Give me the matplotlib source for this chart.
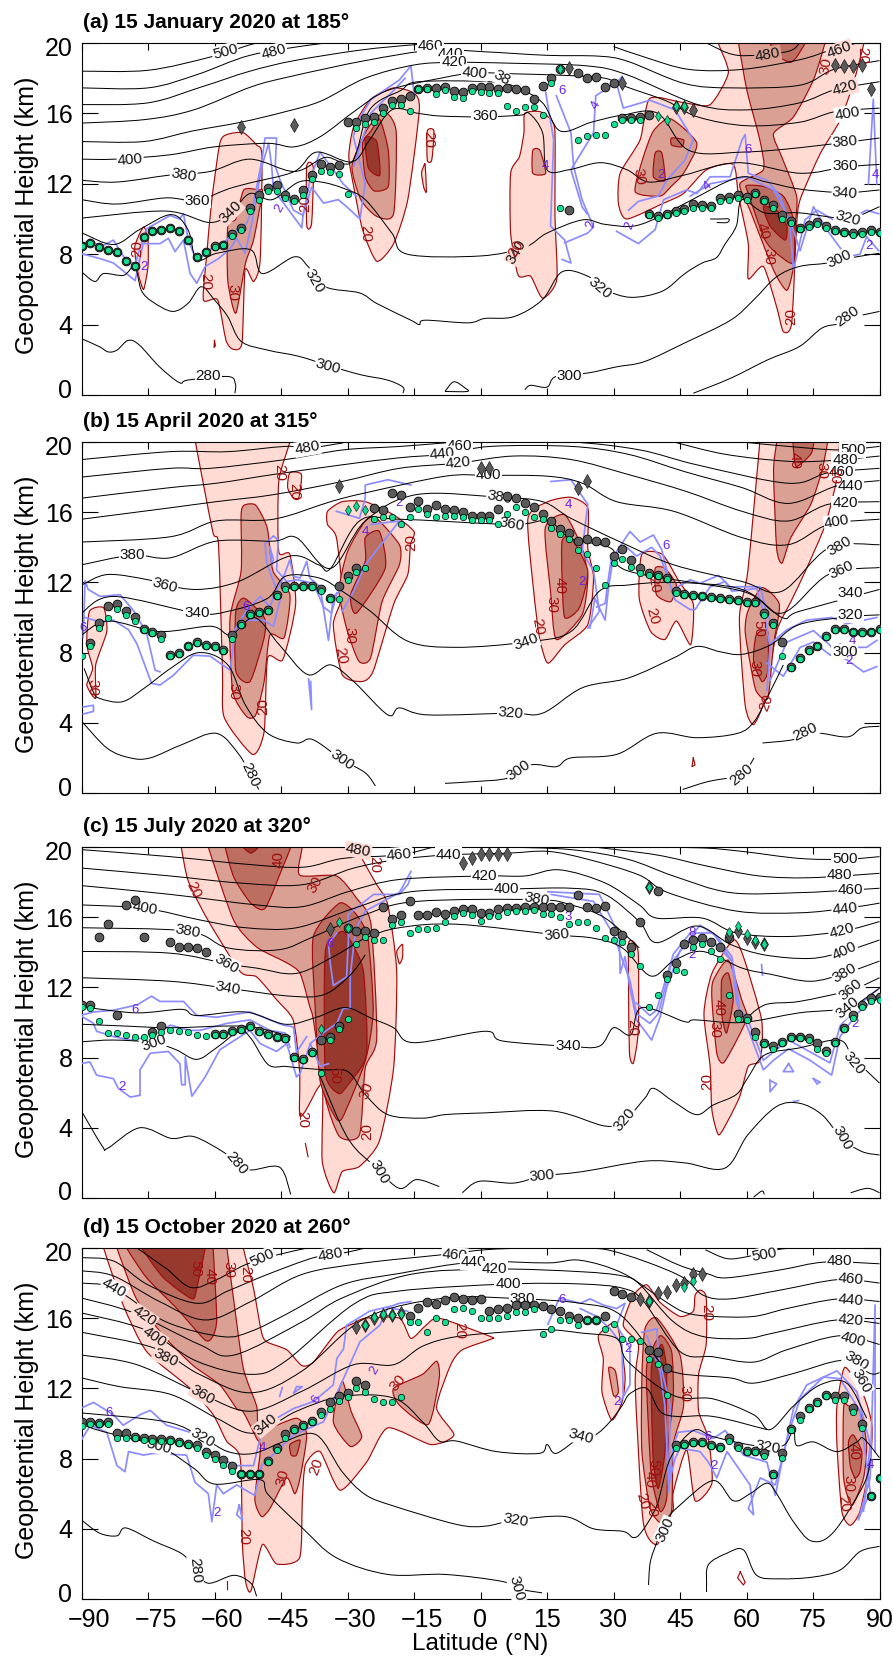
import matplotlib
matplotlib.use("Agg")
import matplotlib.pyplot as plt
from matplotlib.path import Path
from matplotlib.patches import PathPatch
from matplotlib.transforms import ScaledTranslation
import numpy as np

plt.rcParams['font.family'] = ['Liberation Sans', 'DejaVu Sans']

W, H = 893, 1659
C20, C30, C40, C50 = '#FFDBD4', '#DBA094', '#BC6E60', '#98392E'
RED, BLUE, PURPLE = '#A00C0C', '#8C8CFF', '#6A22E0'

# ---------- panel (a) ----------
a_title = '(a) 15 January 2020 at 185°'
a_isen = [
 [(-90,18.4),(-75,18.45),(-61,19.2),(-52,19.9),(-50,20)],
 [(-90,17.45),(-75,17.45),(-64,18.2),(-52,19.3),(-38,19.9),(-33,20)],
 [(51,20),(58,19.3),(69,19.5),(72,20)],
 [(-90,16.5),(-75,16.6),(-63,17.5),(-52,18.4),(-42,19),(-27,19.6),(-15,19.9),(-8,20)],
 [(30,19.8),(37,19.2),(47,18.5),(59,18.5),(72,19.05),(79,19.6),(85,20)],
 [(-90,15.45),(-75.7,15.65),(-64.7,16.2),(-51.8,17.5),(-42.8,18.1),(-26,19),(-10.6,19.6),(1,19.5),(15,19.3),(26.8,19.25),(33.3,18.95),(46,17.7),(56.5,17.45),(72,17.6),(79.7,18.5),(90,19)],
 [(-90,14.4),(-76,14.4),(-65,15),(-54,15.5),(-44,16.1),(-36,16.7),(-26,18),(-15,18.75),(-6,18.9),(7,18.85),(24,18.7),(33,18.2),(49,16.5),(60,16.2),(72,16.6),(80,17.35),(90,17.8)],
 [(-90,13.4),(-82.5,13.4),(-70,13.65),(-60,14.1),(-48,14.3),(-42,14.1),(-36,14.7),(-28,16.2),(-21,17.3),(-9,18),(-1.3,18.3),(7.5,18.25),(20,18.15),(28,18),(33,17.5),(42,16.7),(49,15.8),(60,15.3),(72,15.5),(80,16.1),(90,16.3)],
 [(-90,12.2),(-82,12.1),(-70,12.5),(-61,12.7),(-52,13.4),(-42,12.7),(-35,13.5),(-29,13.25),(-25,16.2),(-18,17.3),(-14,17.8),(2,17.8),(8,17.5),(14,16.6),(18,15),(25,15.5),(32,15.9),(40,16),(47,13.9),(59,13.8),(72,14.05),(90,14.6)],
 [(-90,11.1),(-82,10.85),(-71,11.2),(-64,11.05),(-57,11.7),(-52,12.05),(-42,12.7),(-37,13.8),(-29,13.25),(-25,14.5),(-20,16.2),(-14,16),(-9,15.85),(1,15.8),(9,15.9),(11,16),(14,14.9),(15,12.8),(20,12.8),(27,13.2),(33,12.8),(38,12.1),(46,12.5),(58,13.2),(72,12.6),(82,12.95),(90,13.1)],
 [(-90,10.05),(-71,10.45),(-61,9.8),(-56,10.45),(-52,11.45),(-47,11.1),(-41,12.1),(-36,12.1),(-31,11.75),(-26,11.1),(-20,9.2),(-16.5,8.0),(0,7.9),(10,8.4),(15,9.2),(23,9.95),(28,9.7),(34.6,9.6),(41,10.2),(47,11),(58,12.35),(64.5,12.1),(72,11.7),(82,11.5),(90,11.65)],
 [(-89.8,9.2),(-82.7,8.55),(-76.9,9.4),(-69.8,10.25),(-66,9.4),(-64,7.7),(-59.5,8.05),(-51.8,8.25),(-49.2,6.9),(-42,7.85),(-38.9,7.3),(-35,6.15),(-27.3,5.8),(-23.4,5.2),(-15.7,4.25),(-13.8,4),(-12.5,4.25),(-2.8,4.1),(1,4.35),(7.5,4.45),(13.9,5.4),(18.4,7),(24.2,6.75),(28,6),(33.9,5.55),(41,5.9),(46.1,6.9),(50,7.5),(53.2,7.8),(55.1,8.55),(57.7,9.6),(59,11.1),(64.1,10.35),(71.9,10.35),(82.8,10.05),(90,10.7)],
 [(-90,7),(-87,6.45),(-85,6.9),(-80.5,6.8),(-78,7.3),(-76.5,5.95),(-74,5.3),(-69.5,4.75),(-66,5.2),(-63,6.15),(-60,5.4),(-57,4.45),(-54,3.05),(-48,2.55),(-41,2.2),(-34,1.65),(-27,1.15),(-21,.85),(-17.5,.45),(-17.5,.1)],
 [(10,.3),(11.3,.55),(15,.45),(17,1.05),(24.2,1.25),(30.7,1.6),(37,1.9),(46,2.95),(56.4,4.25),(61.6,5.4),(66.7,6.7),(71.9,7.3),(78.3,7.5),(84.8,7.85),(90,8.05)],
 [(-8,.2),(-6,.75),(-3.5,.4),(-3,.2),(-8,.2)],
 [(51.8,10),(54,10),(56,10),(55.6,9.8),(53.3,9.8)],
 [(-90,3.2),(-86,2.75),(-84,2.45),(-82,2.55),(-79.5,3.1),(-77,2.85),(-72.4,1.6),(-67.9,.7),(-66,.85),(-57,1.05),(-55.3,.65),(-55.4,.1)],
 [(48,.1),(56.4,.95),(64.8,2),(71.9,2.75),(77,3.8),(80.9,4.05),(84.8,4.45),(90,4.75)],
]
a_fill20 = [
 [(-61.8,7.85),(-60.6,11.1),(-58.8,14.3),(-57.2,14.8),(-53.5,14.9),(-50.5,14.2),(-49.3,13.55),(-49.7,7.65),(-51.2,6.45),(-53.1,7.1),(-53.8,2.95),(-55.8,2.6),(-57.4,3.1),(-59.3,5.4),(-62.5,5.4)],
 [(-76,9.55),(-75,8.8),(-75,7.3),(-76,6),(-77.2,6.9),(-78,8.4)],
 [(-19.6,17.45),(-15,17.15),(-13.8,16.2),(-16.4,11.1),(-19.6,8.6),(-23.4,7.6),(-26.6,9.4),(-28.6,11.85),(-29.7,13.55),(-28.6,15.25),(-24.8,16.8)],
 [(-39.2,13),(-37.7,12.9),(-38.1,9.75),(-39.2,9.65)],
 [(-12,15),(-10.5,15),(-11,13.35),(-12,13.35)],
 [(-12.8,13),(-12.5,13.1),(-12.2,11.55),(-12.8,11.8),(-13.3,12.6)],
 [(10,16),(13.4,16.1),(15.9,15.65),(16.8,14.9),(16.8,10.15),(17.2,6.55),(14,5.5),(11.3,6.75),(8.5,6.8),(6.8,9.2),(6.8,12.6),(8.8,13.55),(9.8,14.9)],
 [(53.7,19.95),(55.9,18.3),(51.8,16.5),(46,16.6),(38.2,16.85),(36,14.5),(31.5,12.6),(31.1,10.9),(33,10),(41.3,10.9),(45.8,11.45),(51,12.8),(57,13.1),(58.2,11.3),(60.4,8.6),(60.4,6.6),(63.8,7.3),(66.8,5),(68.3,3.6),(70.2,4.1),(71.3,9.6),(72.1,11.1),(76.6,13.7),(81.1,15.6),(84.1,17.7),(86.4,19.9),(86.4,20.5),(53.7,20.5)],
]
a_fill30 = [
 [(-57,9.6),(-55.2,10),(-53.4,11.65),(-50,11.65),(-49.2,11.5),(-51.2,8.8),(-53,7.5),(-55.2,4.65),(-57,6.5)],
 [(-26,14.9),(-23.4,15.8),(-21,16),(-19,14.9),(-19.6,10.3),(-23.4,10.15),(-27,11.1),(-29,13)],
 [(11.8,13.9),(13.4,13.9),(14.7,12.6),(11.8,12.6)],
 [(39,15),(42.8,15.7),(48.8,14.3),(45.8,12.6),(42.8,11.8),(40.5,11.3),(34.9,11.55),(36.7,13.5)],
 [(58.2,20.5),(77.7,20.5),(77.7,20),(75.1,17.9),(70.6,15.8),(66.1,14.85),(68,13.5),(71.3,11.3),(71,9.6),(70.6,7.3),(69.1,5.95),(66.1,7.1),(60.8,10.5),(58.5,12),(63.8,12.8),(63,14.5),(60.1,17.3),(58.2,20)],
]
a_fill40 = [
 [(-26.6,14.3),(-24.7,15),(-22.7,15.65),(-20.8,13.9),(-20.8,11.85),(-24,11.6),(-26,12.4)],
 [(39.4,13.75),(40.9,13.75),(41.6,12.2),(39,12.4)],
 [(43.1,14.6),(45.8,14.5),(45.4,14.1),(43.1,14.2)],
 [(65.3,20.5),(73.2,20.5),(73.2,20),(71.3,19.2),(69.8,18.9),(66.8,19.3),(65.3,20)],
 [(60,11.9),(63.8,11.85),(68.3,11.3),(70.6,9.95),(70.6,7.5),(66.1,8.2),(63.8,9),(60.4,11.45)],
]
a_fill50 = [
 [(-26,14.6),(-23.4,14.4),(-22.7,12.5),(-25.3,12.9)],
 [(63.8,10.7),(66.8,10.5),(69.1,9.6),(68.7,8.8),(65.3,9.6)],
]
a_outline = [[(-60,3.1),(-59.8,2.8),(-60.1,2.7),(-60,3.1)]]
a_blue = [
 [(-90.3,8.45),(-88.1,8.85),(-85.8,8.4),(-82.8,8.8),(-80.2,7.75),(-77.9,7.4),(-76.8,8.4),(-75.3,9.45),(-70,10.2),(-67.9,10),(-67,10.3),(-65.9,8.8),(-64.4,7.85),(-62.9,7.85),(-60.3,8.4),(-57.3,8.8),(-55,9.4),(-52.7,9.75),(-51.2,10.9),(-49.3,13.35),(-48.6,14.6),(-46,14.6),(-46.3,13),(-45.2,12.2),(-42.2,10.5),(-40,10.2),(-38.5,12.2),(-36.2,13.8),(-33.2,12.8),(-31,12),(-28,11.3)],
 [(-90.3,8.05),(-85.8,7.75),(-82.8,7.5),(-77.9,6.5),(-76.1,8.6),(-72.3,8.6),(-70.4,8.9),(-68.9,8.15),(-67,8.8),(-65.5,6.9),(-64,6.35),(-62.1,7.3),(-59.1,7.75),(-56.5,8.3),(-55,8.9),(-53.1,8.05),(-51.6,9.75),(-49.3,13),(-47.8,14.3),(-47.1,13),(-46.7,11.65),(-44.4,10.9),(-40.3,9.5),(-40,10.3),(-38.1,11.8),(-35.4,10.9),(-32.1,11.1),(-30.2,10.7),(-27.2,10),(-26,12),(-28.7,14.7),(-27.5,15.6),(-24.7,16.8),(-18.3,17.9),(-15.7,18.7),(-15,17.15)],
 [(-28.6,13),(-24.8,16),(-20,17.2),(-17,18)],
 [(14.6,17.35),(16.5,14.5),(15.8,9.6),(19,8.8),(20.4,7.5),(18.4,7.7)],
 [(17.1,17),(20.4,14.9),(21,13),(22.9,11.1),(25.5,9.55),(24.2,9.2),(19,8.65)],
 [(32,18),(26,17),(25.5,14.9),(20.4,12.8),(22.9,10.7),(24,10.3)],
 [(33.4,10.5),(35.6,11),(40.1,11.3),(42,12.2),(46.1,13.35),(48,14.5),(43.9,16.2),(38.2,16.75),(32.2,16.3),(30.7,17.7),(31.9,18.1)],
 [(30.7,9.3),(35.6,8.6),(39.4,9.4),(41.3,11.1),(46.5,11.65),(48.8,11.45),(51.8,12.4),(56.3,12.4),(59,14.5),(59.7,14.8),(60.4,12.6),(64.6,12.2),(67.6,11.3),(69.8,9.6),(70.6,7.1),(73.2,9.95),(75.9,10.5),(79.6,9.95),(83,9.95),(87.1,10.5),(89.8,10.3)],
 [(47.3,11.3),(51.8,12),(60,12.4),(66.1,11.65),(69.8,9.95),(72.1,8.2),(75.1,10.7),(78.1,9.4),(82.6,7.85),(85.6,8),(87.1,9),(89.8,8.2)],
 [(87.5,12),(88.6,16.8),(89.4,12)],
]
a_gray = [
 (-90,[8.45,8.65,8.4,8.25,8.15,7.6,7.35,8.95,9.3,9.4,9.5,9.3,8.8,7.85,8.1,8.45,8.55,9.15,9.5,10.6,11.35,11.75,11.95,11.35,11.15,11.65,12.5,13.15,12.95,13.05,15.5,15.5,15.75,15.8,16.3,16.7,16.8,17,17.4,17.45,17.45,17.5,17.3,17.2,17.45,17.5,17.5,17.4,17.45,17.4,17.35,16.8,17.55,18,18.5]),
 (20,[10.5]),(22,[18.3,18,18.05,17.5,17.7,15.75,15.75,15.8,15.9]),
 (38,[10.3,10.15,10.3,10.45,10.55,10.85,10.8,10.75,11.2,11.25,11.35,11.25,11.45,11.1,10.8,10.25,9.9,9.5,9.65,9.85,9.6,9.4,9.25,9.2,9.25,9.4,9.25]),
]
a_green = [
 (-90,[8.45,8.65,8.4,8.25,8.15,7.6,7.35,8.95,9.3,9.4,9.5,9.3,8.8,7.85,8.1,8.4,8.5,9.05,9.4,10.45,11.1,11.6,11.6,11.2,11,11.35,12.3,12.7,12.65,12.55,11.4]),
 (-28,[15.15,15.4,15.5,16.05,16.45,16.45,16.15,17.4,17.4,17.1,17.35,16.95,16.9,17.25,17.2,17.15,17.15,16.4,16.15,16.35,16.35,15.9,17.7]),
 (18,[10.65]),(22,[14.5,14.7,14.75,14.8,15.4,15.6,15.6,15.6]),
 (38,[10.2,10.05,10.2,10.35,10.45,10.65,10.6,10.6,11.05,11.1,11.2,11.1,11.4,11,10.65,10,9.8,9.45,9.55,9.7,9.5,9.3,9.2,9.1,9.15,9.25,9.2]),
]
a_dgray = [(-54,15.25),(-42,15.35),(20,18.6),(32,17.7),(44,16.35),(46,16.35),(48,16.2),(80,18.75),(82,18.7),(84,18.7),(86,18.75),(88,17.4)]
a_dgreen = [(18,18.5),(40,15.85),(42,15.65),(44,16.4),(46,16.4)]
a_lab = [('500',-57.6,19.5,15),('480',-46.6,19.5,15),('460',-11.2,19.85,0),('440',-6.7,19.4,0),('420',-6,18.9,0),('400',-1.3,18.3,-5),('38',4.9,18,-30),('400',-79,13.35,5),('380',-67,12.5,-10),('360',-63.8,11.05,0),('340',-56.3,10.4,45),('360',1,15.85,0),('320',-37.6,6.45,-60),('320',26.8,6.05,-40),('340',8.1,8.15,60),('300',-34.4,1.65,-15),('280',-61.4,1.1,0),('300',20,1.1,0),('280',82.8,4.45,35),('300',81,7.75,25),('320',82.8,10.05,-15),('340',82.2,11.45,-5),('360',82.2,13,0),('380',82.2,14.4,5),('400',82.8,16,10),('420',82.2,17.45,15),('460',81,19.6,20),('480',64.8,19.35,10)]
a_red = [('20',-11.8,14.5,-90),('20',-26,9.2,-90),('20',-62,6.45,-90),('30',-56,5.8,-90),('30',35.8,12.4,-80),('30',78,18.7,80),('20',86,19.3,-90),('30',65,7.85,-90),('40',63.7,9.3,-75),('20',70,4.45,90),('20',-77.5,8.35,90),('20',-39.6,10.9,90),('20',8,8.3,60)]
a_pur = [('2',-45.4,10.6,60),('4',14.6,13,0),('2',24.9,9.7,80),('4',26,16.45,60),('6',18.4,17.25,0),('2',33.7,9.65,70),('2',40.7,12.5,0),('4',51.3,11.85,40),('6',60.3,13.9,0),('2',87.7,8.45,0),('4',89,12.5,0),('2',-75.9,7.3,0)]

# ---------- panel (b) ----------
b_title = '(b) 15 April 2020 at 315°'
b_isen = [
 [(-90,19),(-70,19.45),(-57,19.45),(-44,19.75),(-39,19.65),(-31,19.95)],
 [(-90,18),(-70,18.5),(-61,18.5),(-44,19),(-31,19.55),(-18,19.75),(-4.8,20),(2.3,20),(20.4,20),(35.9,19.55),(48.8,18.7),(69.4,17.65),(78.5,18.25),(90,18.5)],
 [(-90,16.8),(-70,17.4),(-59.6,17.65),(-46.7,18.15),(-31.2,18.7),(-18.3,19.1),(-8.6,19.3),(2.3,19.75),(20.4,19.75),(33.3,19.3),(46.2,18.3),(59,17.4),(69.4,16.5),(80.4,17.5),(90,17.8)],
 [(-90,15.6),(-70,16.25),(-59.6,16.6),(-46.7,17),(-31.2,17.75),(-18.3,18.5),(-5,18.8),(7.5,19.2),(20.4,19),(33.3,18.15),(46.2,17.2),(59,16.05),(69.4,15.5),(78.5,16.45),(90,16.6)],
 [(-90,14.3),(-70,14.6),(-59.6,15.5),(-46.7,15.6),(-33.8,16.6),(-26,17.1),(-8,18.05),(1.7,18.1),(15.2,18.05),(23,17.65),(30.7,16.6),(43.6,16.05),(59,14.55),(69.4,14.15),(78.5,15.3),(90,15.6)],
 [(-90,13),(-78.6,13.55),(-70,13.4),(-59.6,14.35),(-46.7,14.35),(-41.5,14.55),(-33.8,12.8),(-26,15.5),(-14.5,17),(4.3,16.85),(14,16.6),(20.4,15.65),(32,14.25),(43.6,13),(59,12.05),(68,11.5),(78.5,13.95),(90,14.15)],
 [(-90,11.85),(-84.1,12.45),(-75,12.15),(-71.2,11.85),(-63.5,11.6),(-54.6,12.05),(-43,13.5),(-36.5,13),(-33.8,12.8),(-27.3,15.5),(-18.3,15.6),(7,15.3),(15.2,15.5),(20.4,14.5),(29.4,13.95),(33.3,12.65),(59,11.5),(68,10.25),(78.5,12.45),(90,12.85)],
 [(-90,10.25),(-82.8,11.2),(-64,10.25),(-57,10.35),(-48,11.1),(-44,12.35),(-36.4,12.25),(-31.2,11.5),(-24.8,10.35),(-16.4,8.65),(-5.4,8.3),(10.3,8.6),(20.4,9.2),(26.8,11.5),(33.3,11.85),(43.6,12),(59,11.6),(68,10),(71.9,10.35),(90,11.6)],
 [(-90,9),(-84,9.8),(-72.5,9.2),(-60.8,9.5),(-56.3,9),(-51,10),(-45.4,8.45),(-39,6.75),(-33.8,7.3),(-28.6,6.35),(-20.9,4.45),(-18.3,4.85),(-11.9,4.45),(6.8,4.55),(14,4.55),(23,6),(33.3,6.55),(43.6,7.7),(48.8,8.35),(54,8.05),(59,7.9),(65.5,8.45),(71.9,9.6),(83.6,10.05),(90,10.15)],
 [(-89.4,7.1),(-87.4,5.8),(-86,5.4),(-80.8,5.2),(-75.7,6),(-69.9,7.1),(-63.5,8),(-57,7.3),(-53,5),(-48,3.4),(-41.5,2.85),(-37.9,3.05),(-31.2,1.9),(-26,1.15),(-23.7,.4)],
 [(-8,.55),(-1.5,.65),(6.2,.85),(11.4,1.6),(17.1,1.5),(20.4,2),(30.7,2.2),(39.7,3.4),(48.8,3.15),(58,3.4),(61.8,4.1),(65,5.6),(68.3,7.3)],
 [(-90,4.1),(-84.2,2.55),(-79,2),(-74.5,2),(-67.4,2.75),(-59.6,3.4),(-54.5,2.2),(-52,1.05),(-50,.2)],
 [(45.6,.2),(51.3,.65),(58.8,1.05),(61.7,2)],
 [(63.6,2.85),(70.7,3.05),(73.3,3.5),(77,3.4),(82.9,3.2),(86,3.7),(90,3.8)],
 [(59,20),(69.4,19.75),(81,19.55),(90,19.75)],
 [(43.6,20),(55.2,19.3),(69.4,18.9),(79.6,18.95),(90,19.2)],
]
b_fill20 = [
 [(-64.3,20.5),(-64.3,20),(-60.4,14.9),(-59.1,14.15),(-58.2,6.95),(-57.8,4.3),(-51.4,2.2),(-48.8,3.5),(-48,7.7),(-44.6,7.6),(-41.7,10.75),(-43,13.6),(-45.5,13.75),(-45.5,17.75),(-43,20),(-43,20.5)],
 [(-43,18.25),(-40.4,18.15),(-41,16.8),(-42.2,16.8),(-43.5,17.4)],
 [(-88.2,10.35),(-85,10.55),(-84.3,9.2),(-86.8,7.3),(-86.8,5.4),(-88.8,6.15),(-87.5,7.1),(-88.8,8.45)],
 [(-34.5,16.05),(-31.2,16.6),(-26,16.6),(-19.6,15.85),(-15,14.9),(-15.8,14.15),(-16.4,12.45),(-19.6,10.75),(-24.2,6.95),(-26.8,6.35),(-31.2,6.75),(-33.2,9.6),(-31.2,11.3),(-32.5,14.55),(-34.5,15.3)],
 [(10.7,15.65),(15.2,16.6),(20.4,16.85),(24.2,16.25),(24.2,13.95),(25.5,12.25),(24.2,9.6),(19,8.45),(15.2,7.4),(13.3,8.85),(12,11.5)],
 [(36.4,13.6),(41,13.6),(44.8,12.05),(48,10.75),(47.4,8.45),(44.2,9.8),(41.6,8.75),(38.4,9.2),(35.8,11.1)],
 [(63,20.5),(81,20.5),(81,20),(80.4,17.95),(77.8,15.3),(73.3,12.65),(70,10.9),(66.8,9.2),(64.2,5.4),(61.6,3.9),(59.7,5),(58.4,9.95),(60.3,12.65),(63,20)],
]
b_fill30 = [
 [(-53.3,16.4),(-50.7,16.4),(-48.1,15.1),(-46.8,12.65),(-43,11.3),(-44.3,8.85),(-47.5,9),(-48.8,6.35),(-50.7,4.45),(-52.7,4.35),(-55.9,5.8),(-56.5,9.95),(-54,12.65),(-54,15.85)],
 [(-30,13.75),(-26,15.5),(-23.5,15.65),(-18.3,14.15),(-18.3,13),(-22.2,10.9),(-24.8,7.7),(-27.4,7.5),(-30,9.2),(-31.9,11.5)],
 [(14.6,15.1),(19,15.85),(22.9,13.95),(24.2,12.25),(22.9,10.15),(17.1,8.75),(15.8,11.5)],
 [(39.4,12.8),(41.6,12.8),(44.2,11.85),(42.9,10.9),(39.7,11.3)],
 [(66.8,20.5),(78.3,20.5),(78.3,20),(77,18.35),(74.5,16.45),(70,14.55),(68,13.1),(66.8,13.95),(66.1,18.35),(66.8,20)],
 [(60.3,10.35),(63.5,11.7),(67.4,10.75),(66.1,8.45),(64.8,5.4),(62.2,5.8),(60.9,7.3),(59.7,9.2)],
]
b_fill40 = [
 [(-55.2,10.35),(-53.3,11.1),(-48.8,10),(-48.8,8.85),(-52,6.35),(-55.2,6.95)],
 [(-26,14.55),(-22.8,14.9),(-21.5,12.8),(-28,10.25),(-29.3,11.3),(-26,13.2)],
 [(18.4,14.35),(20.4,14.55),(24.2,12.65),(22.3,10.55),(19,10),(18.4,12.25)],
 [(70.7,20.5),(75.2,20.5),(75.2,20),(74.5,19.3),(71.3,18.6),(70.7,19.3)],
 [(62.2,9),(64.8,9.2),(64.8,6.95),(63.5,6.35),(61.6,7.5)],
]
b_fill50 = []
b_outline = [[(48,2),(48.4,1.6),(47.7,1.5),(48,2)]]
b_blue = [
 [(-89.6,8.9),(-89.2,12.1),(-88.5,11.6),(-85.8,11.2),(-81.3,11.3),(-78.3,10.4),(-75.3,9.1),(-73.4,7),(-72.3,6.9)],
 [(-89.2,10),(-85.8,9.75),(-82.8,9.85),(-79.4,9.3),(-77.5,8.5),(-74.2,6.25),(-72.3,6.15),(-69.3,6.7),(-64.8,7.85),(-61,7.8),(-56.5,7),(-55.4,9.1),(-52.7,9.85),(-49,9.85),(-46.7,9.5),(-45.2,11),(-48.2,13.1),(-48.6,14.2),(-46.7,14.65),(-45.6,14.4),(-46,12.7),(-43.7,12.05),(-41.4,12.15),(-37.7,11.95),(-35.4,10.6),(-33.6,10.25),(-32.4,11.4)],
 [(-55.4,9.3),(-52.7,10.45),(-49.7,11.2),(-47.5,10.6),(-46,11.6),(-44.5,12.25),(-43,13.3),(-42.2,12.35),(-40.7,12.25),(-39.2,13.2),(-38.5,12.25),(-36.2,11.75),(-34.3,8.7),(-33.2,11.2),(-31,11.65)],
 [(-47.5,14),(-46.7,13.3),(-47.1,13),(-47.5,14)],
 [(-89.6,4.9),(-87.3,5),(-87.3,4.65),(-89.6,4.5)],
 [(-38.8,6.5),(-38.1,4.75),(-38.3,6.35)],
 [(-32.5,16.05),(-27.3,15.65),(-26,16.8),(-26,17.55),(-20.9,17.85),(-15.7,17.55)],
 [(-24.8,15.3),(-18.3,15.5),(-26,13),(-28.6,11.5),(-31.2,10.35)],
 [(15.9,17.75),(20.4,17.85),(24.2,16.45),(22.9,13.75),(25.5,12.65),(26.8,10.35),(24.2,9.4)],
 [(24.7,9.4),(25.8,11.1),(28.1,9.85),(28.9,11.75),(30,13.5),(33.7,14.9),(36,14.3),(39,14.7),(40.9,13.85),(42,12.7),(43.1,11.55),(47.3,12.15),(49.5,11.95),(53.7,12.4),(56.3,11.75),(63.1,11.75),(64.2,10.6),(65.3,9.85)],
 [(26.2,10.6),(28.1,10.8),(28.9,12.3),(29.6,13.5),(33,14),(35.2,13.5),(38.6,14),(40.5,13.5),(42.4,12.15),(43.9,11),(47.3,10.45),(48.4,10.45),(51.8,11.75),(55.2,12.05),(56.7,11.5),(62.3,11.65),(64.2,10),(65.3,8.3),(64.6,5.85)],
 [(65.3,8.5),(69.1,9.3),(73.6,9.85),(79.2,10),(82.6,9.65),(89.4,10)],
 [(64.6,7.4),(68.3,6.65),(72.1,8.3),(75.1,8.6),(78.9,7.85),(81.1,8.5),(82.6,8.3),(87.1,8.3),(89.4,8.7)],
 [(65.3,6.4),(69.1,8.6),(75.1,9.25),(78.5,8.5),(81.1,7.75),(82.6,7.6),(86.4,6.9),(89.4,7.2)],
]
b_gray = [
 (-88,[8.55,9.7,10.65,10.75,10.35,10.05,9.35,9.15,9,7.85,8,8.4,8.6,8.45,8.35,8.15,9,9.65,10.2,10.3,10.4,11.3,11.8,11.8,11.8,11.8,11.6,11.1,11.8,12.35,12.8]),
 (-24,[16.25,16.15,17.1,17,16.3,16.65,16.2,16.4,16.2,16.1,16,15.8,15.8,15.8,16.2,16.9,16.8,16.5,16.3,15.9,15.5,15.05,14.8,14.35,14.5,14.35,14.3,13.5,13.9,13.3,12.8,12.55,12.4,12.25,11.5,11.35,11.3,11.2,11.15,11.1,11.05,11,10.9,10.9,10.25,9.7,8.6]),
 (70,[7.2,7.7,8.15,8.4,8.95,9.35,9.35,9.2,9.15,9.2,9.35]),
]
b_green = [
 (-90,[7.8,8.35,9.4,10,10.5,10.15,9.8,9.3,9.1,8.8,7.8,7.9,8.35,8.55,8.4,8.3,8.1,8.75,9.55,10.15,10.25,10.35,11.2,11.6,11.75,11.75,11.75,11.5,11.05,11.05,12.15,12.6,12.8]),
 (-24,[15.6,15.7,15.75,15.3,15.75,16.2,15.9,15.7,15.8,15.8,15.7,15.55,15.55,15.55,15.3,15.9,16.3,16,15.75,15.6,15.1,14.75,14.5,13.85,13.6,12.8,11.85,13.1,13.35,12.9,12.55,12.4,12.35,12.2,11.4,11.3,11.25,11.2,11.1,11.05,11,10.95,10.85,10.85,10.15,9.6,7.8]),
 (70,[7.15,7.65,8.1,8.35,8.9,9.3,9.3,9.15,9.1,9.15,9.3]),
]
b_dgray = [(-32,17.5),(0,18.5),(2,18.5),(22,17.4),(24,17.75)]
b_dgreen = [(-30,16.15),(-28,16.35),(-26,16.1)]
b_lab = [('480',-39,19.65,10),('460',-4.8,19.8,0),('440',-8.6,19.3,5),('420',-5,18.8,5),('400',1.7,18.1,0),('380',4.3,16.85,-10),('360',7,15.3,-10),('380',-78.6,13.55,0),('360',-71.2,11.85,-15),('340',-64,10.25,0),('340',10.3,8.6,20),('320',6.8,4.55,-5),('300',-31.2,1.9,-35),('300',8.5,1.3,35),('280',-52,1.05,-65),('280',58.8,1.05,40),('280',73.3,3.5,25),('500',84,19.55,0),('480',82.2,19,0),('460',81.5,18.3,0),('440',83.5,17.5,0),('420',82.2,16.5,0),('400',80.4,15.45,10),('380',81,14.05,30),('360',81.5,12.7,25),('340',83.5,11.4,0),('320',83.5,10.15,0),('300',82.2,8.05,0)]
b_red = [('20',-45.4,18.25,-90),('20',-42,17.2,-90),('20',-15.7,14.25,90),('20',-31.5,7.8,-80),('30',-29.6,9,-90),('30',-55.8,5.8,-90),('20',-49,4.95,90),('40',17.9,11.85,-90),('30',15.9,10.75,-90),('20',12.9,9.5,-80),('20',38.8,10.05,-75),('20',39,11.85,-80),('40',70.8,18.95,-90),('30',76.8,18.4,-90),('20',79.8,18.1,-90),('30',61.7,7.1,-90),('50',62.6,9.4,-90),('20',64.5,5.15,70),('30',-87.5,6,-90)]
b_pur = [('6',-89.6,9.4,0),('6',-52.9,10.6,0),('4',-26,14.9,0),('2',-18.3,16.5,0),('4',19.8,16.4,0),('2',23,12.05,0),('6',41.8,14.05,0),('4',83.9,8.65,0),('2',83.2,7.5,0)]

# ---------- panel (c) ----------
c_title = '(c) 15 July 2020 at 320°'
c_isen = [
 [(-90,19.85),(-70,19.45),(-52,19),(-40,18.85),(-31,19.35),(-18.3,19.55),(-10.6,20)],
 [(-90,18.8),(-70,18.35),(-54.4,17.95),(-40.2,17.85),(-28.6,18.8),(-18.3,19.3),(-7.3,19.55),(6.2,19.65),(15.2,19.75),(24.2,19.3),(35.8,18.4),(42.3,17.4),(57.7,16.35),(71.9,16.25),(82.2,16.5),(90,16.8)],
 [(-90,17.8),(-70,17.3),(-50.5,16.7),(-40.2,16.6),(-29.9,17.45),(-18.3,18.15),(.8,18.35),(10,18.35),(17.8,18.7),(28.1,17.95),(35.8,16.7),(39.7,15.95),(50,15.95),(57.7,15.1),(69.4,14.9),(81.5,15.2),(90,15.75)],
 [(-90,16.7),(-75.6,16.5),(-63.4,15.85),(-53,15.4),(-41.5,15.4),(-28.6,16.5),(-15.7,17.45),(5.8,17.6),(20.4,17.65),(28.1,17.3),(35.8,15.75),(39.7,14.55),(48.7,15.5),(56.4,14.45),(64.1,13.85),(74.4,13.65),(82.2,14.05),(90,14.7)],
 [(-90,15.4),(-66,15.2),(-57,14.25),(-45.4,14.15),(-37.6,14.9),(-26,16.15),(-14.4,16.9),(12.6,17),(20.4,16.7),(28.1,15.95),(35.8,14.25)],
 [(-90,14.05),(-70,13.95),(-57.2,13.35),(-50.5,13.1),(-41.5,12.8),(-32.5,13.85),(-26,14.8),(-18.3,15.4),(-5.4,15.6),(17.1,15),(25.5,14.8),(32,14.25),(38.4,12.65),(43.5,13.5),(50,14.05),(59,13.1),(65.4,12.75),(74.4,12.35),(82.2,12.8),(90,13.5)],
 [(-90,12.55),(-70,12.35),(-57,11.95),(-42.9,11.5),(-35.2,11.6),(-29.4,12.7),(-26,13.85)],
 [(-90,10.9),(-77.7,10.55),(-67.4,10.75),(-64.1,10.4),(-53,10.6),(-44,9.9),(-37,10.3),(-30.5,10.85),(-24.7,10.25),(-19.6,9.7),(-15.1,8.85),(1,9.5),(4.9,8.95),(19.7,8.65),(26.8,8.65),(30,9.7),(33.9,9.3),(36.4,10.85),(46,10.05),(48.4,10.15),(59,10),(71.9,10.55),(82.8,10.85),(90,11.95)],
 [(-90,9.9),(-80.4,9.8),(-70,9.7),(-57,9.8),(-50.5,9.7),(-42.8,9.2)],
 [(-90,8.9),(-82.8,9),(-73.8,8.85),(-68.7,8.45),(-64,7.9),(-59.6,8.55),(-54.4,9.5),(-51.8,9.1),(-47.9,7.6),(-44,7.5),(-40.2,7.4),(-35,7.3),(-29.9,7.2),(-26,5.9),(-20.9,4.75),(-13.1,4.55),(-8,4.75),(1,4.85),(16.5,4.95),(28.1,4.1),(32.6,4.45),(37.1,5.7),(39,6.25),(43.5,5.5),(48.7,4.75),(52.5,5.3),(57.7,5.9),(60.3,6.85),(64.1,8.15),(71.9,8.55),(80.9,9),(84.1,8),(90,6.55)],
 [(59,10),(64.1,11),(71.9,11.2),(83.5,11.85),(90,12.55)],
 [(-90,4.95),(-85.3,2.95),(-84,2.85),(-76.9,4),(-69.8,3.4),(-64.7,3.5),(-58.2,2.65),(-55,2),(-51.8,1.6),(-45.3,1.75),(-42.8,.2)],
 [(-36.3,7),(-29.9,3.4),(-23.4,1.7),(-18.3,.55),(-14.4,1.05),(-9.3,.65)],
 [(-4.1,.3),(-.3,.95),(7.5,.85),(13.9,1.25),(22.9,1.5),(37.1,2.1),(46.1,2),(55.1,1.7),(60.3,3.6),(66.7,5.2),(71.9,5.4),(77,4.75),(81.5,3.4),(86,2.65),(90,2.45)],
 [(83.5,.3),(87.3,.55),(90,.3)],
 [(61.6,.05),(63.5,.4),(64,.2)],
 [(35.8,20),(50,19.95),(59,19.75),(71.9,19.35),(82.2,19.3),(90,19.45)],
 [(25.5,20),(39.7,19.55),(51.3,18.9),(62.9,18.35),(74.4,18.25),(90,18.5)],
 [(4.9,20),(20.4,19.85),(33.2,19.3),(43.5,18.35),(56.4,17.4),(71.9,17.4),(83.5,17.55),(90,17.65)],
]
c_fill20 = [
 [(-67.5,20.5),(-67.5,20),(-65.9,18.05),(-61.5,15.84),(-54.2,12.9),(-50.5,12.6),(-46,11.3),(-42.2,10.1),(-40.8,7.2),(-40.8,4.75),(-39.5,4.95),(-35.7,6.45),(-35.7,2.1),(-33.1,.3),(-31.2,1.5),(-27.3,1.8),(-22.8,3.25),(-19.6,7.4),(-18.9,12.9),(-20.9,16.7),(-23.4,17.85),(-26,19),(-28,20),(-28,20.5)],
 [(-18.9,14.05),(-17.6,14.45),(-17.6,13.7),(-18.3,13.35)],
 [(33.4,14.5),(34.5,14.6),(35.6,13.9),(35.6,9.55),(34.5,7.7),(33.6,8.25),(33.4,12)],
 [(52.2,12.8),(57,14.7),(59.3,13.75),(63.4,10.15),(63.1,7.85),(60.4,7.5),(58.5,5.8),(55.9,4.45),(53.7,3.6),(52.2,5),(51.8,7.5),(50.4,10.5)],
]
c_fill30 = [
 [(-61.4,20.5),(-40.2,20.5),(-40.2,20),(-40.8,18.4),(-32.5,18.35),(-28,17.1),(-24.7,15.6),(-23.4,9.1),(-26,7.4),(-27.3,3.6),(-31.8,3.5),(-35,5.7),(-37.7,10.15),(-38.5,10.9),(-40.7,12.8),(-43.7,13.4),(-50.5,14.3),(-55.7,15.84),(-61.4,20)],
 [(52.5,12.4),(55.9,13.55),(58.9,11.3),(60.1,10.3),(57.8,9),(54.8,7.7),(53.3,8.25),(52.2,11.3)],
]
c_fill40 = [
 [(-57.6,20.5),(-42.8,20.5),(-42.8,20),(-44.7,18.8),(-48.6,16.5),(-51.8,16.8),(-55.6,18.25),(-57.6,20)],
 [(-37.7,14.9),(-31.8,16.8),(-28,16.15),(-25.4,14.8),(-24.2,10.65),(-26,7.8),(-31.2,4.55),(-33.1,4.75),(-36.2,6.7),(-37.3,10.9)],
 [(54.4,12.4),(55.9,12.8),(57,11.3),(55.5,9.4),(54.4,10.5)],
]
c_fill50 = [
 [(-34.6,14.5),(-31.2,15.2),(-29.2,14.6),(-26.4,12.9),(-25.7,8.2),(-29.9,6.45),(-32,5.95),(-35,7.1),(-35.2,12.9)],
 [(-54.4,20.3),(-49.2,20.3),(-51.8,19.65)],
]
c_outline = [[(-39.5,3.1),(-38.9,2.35)]]
c_blue = [
 [(-90.3,10.4),(-87.3,10.6),(-82.8,10.7),(-77.5,11),(-74.2,11.5),(-72.3,11.2),(-67,11.2),(-64,10.4),(-59.5,10.3),(-52,10.6),(-44.5,9.85),(-42.2,9.75),(-41.5,8.3),(-39.2,9.2)],
 [(-90.3,10.4),(-87.3,9.95),(-86.6,9.5),(-82.8,9.2),(-79,9),(-73.8,9.2),(-70,9.85),(-65.5,9.55),(-63.3,9.55),(-57.2,9.95),(-52,10.15),(-47.5,9.55),(-44.1,9.4),(-43,8.6)],
 [(-90.3,7.65),(-88.1,7.75),(-86.6,7),(-82.8,6.8),(-81.7,6.25),(-79,5.75),(-76.8,5.85),(-76.8,7.3),(-74.5,8.25),(-70.4,8.35),(-67.8,7.65),(-67.4,6.45),(-66.6,6.45),(-66.6,8.05),(-65.1,5.8),(-62.1,6.9),(-58.8,8.45),(-52,9.55),(-49.7,8.8),(-46,8.35),(-43.7,8.8),(-41.5,6.9),(-40.7,7.1),(-38.4,8.8),(-36.2,7.5),(-34.3,7.65)],
 [(-38.4,8.8),(-35,9.5),(-32.4,9.95),(-31,10.8),(-29.4,10.8),(-29.4,12.6),(-28.7,14.2),(-27.9,15.45),(-26,16.35),(-18.3,17.4),(-15.7,18.6)],
 [(-32.4,15.1),(-34.3,14.5),(-33.9,13.4),(-33.2,12.1),(-30.2,12.6),(-29.8,14.7),(-29.9,16.15),(-24.1,17.3),(-18.3,17.3),(-16.4,17.85),(-15.7,18.3)],
 [(15.2,17.45),(26.8,17.3),(29.5,15.9),(31.3,14.9),(31.5,12.8),(32.6,13.75),(33.7,12),(35.2,10.15),(38.6,9),(40.5,10.3),(42,12),(45,14.1),(47.3,14.7),(52.5,14.6),(56.7,13.5),(57.8,11.1),(60.1,9.8),(63.8,7.3),(66.1,7.85),(69.5,8.5),(74.3,7.85),(79.2,7),(81.1,9.2),(84.9,10.5),(90,11.6)],
 [(15.8,17.3),(25.5,16.9),(30,15),(33.7,12.4),(35.2,10.5),(38.2,9.95),(40.1,10.5),(43.1,13.4),(49.5,15.55),(53.3,14.9),(56.7,13.75),(58.5,10.7),(60.1,10.3),(63.8,7.85),(69.5,9),(78.8,7.7),(81.1,9.8),(84.9,10.9),(89.4,11.85)],
 [(35.2,11.1),(38.2,10.4),(39.7,10.7),(43.5,13.9),(47.3,15.1),(52.5,15.1),(56.7,13.5)],
 [(69.5,7.65),(70.6,7.2),(68.3,7.2),(69.5,7.65)],
 [(65.3,6.7),(66.8,6.5),(65.3,6.05),(65.3,6.7)],
 [(75.1,6.8),(76.6,6.6),(75.9,6.5),(75.1,6.8)],
 [(70.6,5.5),(71.7,5.55)],
 [(63.4,13.3),(63.6,12.7)],
]
c_gray = [
 (-90,[11,11,14.9,15.6,10.4,16.7,17,14.9,9.45,9.8,14.6,14.3,14.3,14.25,14,9.35,9.35,9.5,9.65,9.8,9.5,9.35,9.2,9.1,8.05,7.9,8.3,9,9.2,9.8]),
 (-30,[15.4,15.2,15.2,15.1,16.6,15.9,16.15,16.9,16.1,16.1,16.3,16.2,16.35,16.45,16.45,16.25,16.25,16.45,16.5,16.5,16.6,16.6,16.6,16.6,16.6,16.6,17.25,16.6,16.5,16.65,15.2,15,14.3,15.7]),
 (40,[17.5,12.7,13.4,14.5,14.7,14.8,14.6,14.3,14.8,10.5,10.25,9.45,8.85,8.65,8.9,9.2,9.2,9.1,8.85,8.35,8.9,9.7,10.4,11,11.4,11.45]),
]
c_green = [
 (-90,[10.9,10.85,10.1,9.4,9.4,9.3,9.2,9.2,9.3,9.45,9.6,9.5,9.45,9.3,9.25,9.3,9.3,9.45,9.6,9.75,9.45,9.3,9.15,9.05,7.95,7.85,8.25,7.1,9,9.65,10.2]),
 (-28,[14.45,14.9,14.7,14.7,15.55,15.7,15.1,15.3,15.35,15.4,15.7,16.05,16.25,16.1,15.8,16.05,16.05,16.3,16.35,16.35,16.4,16.2,16.2,16,15.6,15.7,15.7,15.4,14.8,14.7,14.6,13.9,13.2]),
 (38,[10.9,11.55,12.5,13,12.9,14.3,14.45,14.05,13.6,11.55,10.2,10.15,9.2,8.8,8.5,8.85,9.1,9.1,9,8.5,8.25,8.85,9.65,10.25,10.9,11.2,11.3]),
]
c_dgray = [(-4,19.1),(-2,19.4),(0,19.6),(2,19.6),(4,19.6),(6,19.6),(38,17.7),(-34,15.35),(56,15),(58,15.2),(60,14.8),(62,14.6),(64,14.45)]
c_dgreen = [(-36,9.65),(-32,15.75),(-30,15.4),(38,17.7),(56,15.15),(58,15.5),(60,15.05),(62,14.7),(64,14.45)]
c_lab = [('400',-75.6,16.5,-10),('380',-66,15.2,-10),('360',-57.2,13.35,-30),('340',-57,11.95,-10),('300',-73.7,8.85,20),('280',-55,2,-50),('300',-22.8,1.5,-60),('300',13.9,1.25,5),('320',32.6,4.45,50),('340',19.7,8.65,0),('360',17.1,15,5),('380',12.6,17,-10),('400',5.8,17.6,0),('420',.8,18.35,0),('440',-7.3,19.55,0),('460',-18.3,19.55,5),('480',-27.6,19.8,-10),('500',82.2,19.3,0),('480',81,18.4,0),('460',83.5,17.55,0),('440',82.2,16.5,5),('420',81.5,15.2,15),('400',82.2,14.05,25),('380',82.2,12.8,30),('360',83.5,11.85,40),('340',82.8,10.85,40),('320',84.1,7.7,-50),('300',81.5,3.4,-60)]
c_red = [('20',-64.7,17.55,-65),('40',-45.5,19.3,90),('30',-37.3,17.85,60),('20',-40.2,4.45,-90),('50',-33,7,-90),('30',-25.8,6.1,70),('20',-25.5,3.8,90),('20',34.3,9.7,-90),('40',53.7,10.85,-90),('30',52.8,9.6,-90),('20',51.2,6.65,90),('20',-24,19,-90)]
c_pur = [('6',-78,10.7,0),('2',-80.9,6.35,0),('6',-33.9,14.5,0),('2',47.7,13.85,0),('8',47.8,15.1,0),('3',19.8,16,0),('2',84.5,9.9,0)]

# ---------- panel (d) ----------
d_title = '(d) 15 October 2020 at 260°'
d_isen = [
 [(-77.5,20),(-71,18.85),(-65.3,17.75),(-59.5,18.2),(-53,19.05),(-46,19.6),(-39,20)],
 [(-90,19.45),(-82.7,19.25),(-75,17.9),(-64,16.85),(-57,17.55),(-48,18.5),(-37.6,19.45),(-31.2,19.7),(-26,20)],
 [(-90,18.7),(-82.7,18.4),(-72.4,16.95),(-62,15.9),(-51.8,16.95),(-40.2,18.5),(-26,19.15),(-9.3,19.6),(1,19.9),(10,20)],
 [(22,20),(28.5,19.9),(37.5,19.2),(45.8,18.3),(50.3,17.3),(56.3,17.1),(67.6,17.6),(80.7,18.2),(90,18)],
 [(-90,18),(-82.7,17.7),(-71,15.8),(-58.2,14.95),(-51.8,15.25),(-44,16.2),(-31.2,17.9),(-18.3,18.55),(-1.5,19.2),(15.2,19.15),(22.5,19.3),(32.2,18.55),(42,16.9),(46.5,16.3),(52.5,16.1),(61.6,16.1),(69.1,16.55),(80.7,17.1),(90,16.95)],
 [(-90,17.15),(-78.2,16.3),(-63.4,14.5),(-55.6,13.9),(-40.2,15.8),(-31.2,17.15),(-15.7,18.5),(3.2,18.8),(22.5,18.65),(32.2,18.4),(36,17.9),(43.5,15.8),(50.3,14.95),(60,14.85),(66,15.15),(80.4,15.9),(90,15.7)],
 [(-90,16.3),(-75.8,15.35),(-64,13.55),(-51.8,12.8),(-44,13.55),(-28.6,16.8),(-18.3,17.55),(6.2,17.95),(22.5,17.95),(32.2,17.7),(36.8,16.95),(45,14.1),(52.5,13.8),(61.6,13.5),(69.1,14.2),(81.1,15),(90,14.5)],
 [(-90,15.2),(-73.6,14.3),(-63.4,12.8),(-51.8,11.75),(-40.2,13),(-26,16),(-8,17.15),(9.4,17.1),(22.5,16.85),(31.5,16.2),(40.5,13.5),(45,12.85),(56.3,12.6),(61.6,12.3),(70.6,12.85),(81.9,13.6),(87.9,12.85),(90,12.9)],
 [(-90,13.9),(-77.5,13.35),(-62.7,11.65),(-51.8,10.7),(-40.2,11.85),(-28.6,13.35),(-19.6,13.35),(-13.1,14.4),(-5.4,14.95),(7.5,15.25),(15.2,15.35),(22.9,15.15),(30.7,14.85),(33.2,13.55),(43.5,11.6),(52.5,11.4),(61.6,10.5),(65.3,9.65),(70.6,11),(76.6,12.2),(82.6,12.3),(87.1,10.3)],
 [(-90,12.6),(-81.4,12.1),(-69.8,11.65),(-59.5,10.3),(-51.1,9.45),(-41.5,10.7),(-31.2,11.55),(-19.6,11.45),(-13.1,10.1),(-9.3,9),(-5.4,9),(3.6,8.4),(13.3,8.3),(15,8.8),(17.1,8.3),(22.7,9.25),(25.9,9.35),(29.2,10.1),(31.9,11),(33.7,11.7),(37.5,12),(40.5,10.7),(44.3,10.4),(52.5,10.4),(64.6,9.65)],
 [(-90,10.6),(-71,10.1),(-62.7,9.2),(-57,8.4),(-51.1,8.3),(-44,9),(-37,9.35),(-31.2,7.25),(-26,5.95),(-19.6,5.3),(-5.4,4.25),(1,4.15),(7.9,4.5),(19,4.7),(25.5,4),(32.2,3.85),(34.5,3.5),(36.4,3.85),(39.8,5.35),(42.8,8),(48,9.6),(52.5,9.25),(61.6,8.75),(68.3,8.75),(70.6,9.7),(71.3,8.75),(75.1,8.95),(80.4,8.4),(84.9,8.95),(86.4,9.15),(90,8.05)],
 [(-90,9.95),(-85.3,9.55),(-72.6,8.7),(-64.7,7.45),(-60,6.55),(-49.8,6.8),(-47.9,5.95),(-40.2,4.05),(-32.5,2.35),(-20.9,1.4),(-8,1.4),(4.9,1),(8.1,.6),(13.9,.35)],
 [(37.9,.8),(38.3,2.1),(39.8,3.25),(41.6,4.4),(45,5.35),(52.5,6.75),(57,5.6),(60.8,6),(64.6,6.6),(66.8,6),(70.6,4.4),(74.7,3.3),(79.6,3.8),(86.4,6.5),(88,8)],
 [(-90,4.5),(-85.9,3.75),(-82,3.6),(-80,4.05),(-73.7,3.3),(-67.2,2.55),(-64.4,1.65),(-61.4,.9),(-55.6,1.35),(-51.8,.9),(-50.5,.15)],
 [(51,.4),(51,.8),(51.4,1.95),(55.5,2.6),(59.3,2.8),(62.3,1.35),(67.6,1.15),(75,1.25),(81.1,1.65),(85.6,2.7),(90,3)],
 [(50.7,19.9),(55.5,19.4),(60,19.5),(66.8,19.9),(70.6,20)],
 [(37.5,19.9),(45,19),(51,18.55),(55.5,18.3),(67.6,18.75),(77.7,19.2),(90,19.1)],
]
d_fill20 = [
 [(-85,20.5),(-53.5,20.5),(-53.5,20),(-51.2,17.7),(-49.4,15.2),(-48.2,14.65),(-43.7,14.2),(-40.3,13.3),(-37.7,13.5),(-32.4,15.2),(-28.7,15.7),(-26,16),(-18.3,16),(-15.7,14.85),(-12.5,15.55),(-9.3,16),(2.3,14.95),(2.3,14.8),(-4.1,14.2),(-6.7,13.35),(-9.9,10.9),(-6,9.35),(-11.2,8.8),(-20.9,9.75),(-25.7,7.8),(-31.7,6.2),(-36.2,8.4),(-39.5,7.65),(-40.2,5.55),(-40.8,2.35),(-46,2),(-49.2,3.1),(-51.8,.45),(-53,1),(-53.7,3.1),(-54.2,8),(-57.3,9),(-60.3,10.5),(-65.5,12),(-75.3,14.1),(-80.6,16.75),(-85,20)],
 [(37.5,17.9),(40.5,16.9),(45,16.1),(48,16.4),(48.4,17.3),(49.5,17.6),(50.9,17.2),(50.9,14.5),(49.2,12.8),(49.2,10.7),(51.4,9.15),(52.2,6.6),(48.4,5.6),(46.5,8.5),(43.5,6.1),(43.5,5.15),(42.8,4.8),(39.8,3.1),(36.7,4.4),(34.9,12.2),(35.6,14.5),(32.2,15.6),(34.5,17.3)],
 [(26.6,15),(30.7,15.7),(32.6,12.75),(31.9,11.2),(29.6,10.2),(27.4,11.8),(27.7,13.7)],
 [(80.4,11),(82.2,13.2),(86.4,11.6),(88.3,9.9),(87.9,7.8),(85.6,5),(83.4,4.2),(81.5,5),(80.4,8.8)],
]
d_fill30 = [
 [(-82,20.5),(-57.2,20.5),(-57.2,20),(-55.7,17.1),(-53.5,13.15),(-50.5,11),(-49.7,9.6),(-41.5,10.3),(-39.2,9.35),(-40.7,6.9),(-41.9,6),(-43.7,6.9),(-47.5,5.15),(-49.4,4.7),(-50.9,5.7),(-49.6,8.6),(-50.5,9.15),(-53.5,10.65),(-55,10.85),(-58.8,12.2),(-64.8,13.3),(-71.5,15),(-77.6,17.1),(-82,20)],
 [(-31.2,12.4),(-29.2,10.7),(-26.8,9.25),(-29.4,8.7),(-33.2,10.1)],
 [(-19.6,12),(-13.1,12.8),(-9.9,13.55),(-9.3,12.6),(-11.8,9.95),(-18.3,11.05)],
 [(37.1,15.4),(39.8,16),(45,13.9),(45.8,11),(43.5,8.8),(43.1,5),(40.9,4.3),(38.3,5.15),(36.4,8.4),(36.4,12.6)],
 [(28.9,13.15),(30.4,13),(31.1,11.8),(30,11.6)],
 [(81.9,10.9),(83,11),(85.6,10.7),(87.1,8.8),(86.4,6.9),(83.8,5.35),(81.9,6.9)],
]
d_fill40 = [
 [(-79.8,20.5),(-60.3,20.5),(-60.3,20),(-59.5,16),(-60.3,15),(-62.1,14.75),(-68.5,16.55),(-75.3,18.3),(-79.8,20)],
 [(-43,8.8),(-40.7,9.05),(-41.5,8.2),(-42.7,8.2)],
 [(37.5,13.3),(40.5,15),(43.1,14.1),(43.5,11.6),(42.4,8.95),(42,5.75),(40.5,5),(38.6,6.9),(37.9,9.7)],
 [(83,8.95),(84.1,9.35),(86,8.4),(85.6,7.25),(84.5,6.9),(83.4,7.6)],
]
d_fill50 = [
 [(-76.4,20.5),(-62.1,20.5),(-62.1,20),(-64,17.7),(-65.1,17.1),(-71.5,18.3),(-76.4,20)],
 [(38.6,13.3),(40.9,14.5),(42,12.9),(41.6,8.4),(40.1,6.3),(39,7.8),(38.6,10.7)],
]
d_outline = [[(-57.2,1),(-57.2,.55)],[(58.6,1.55),(59.7,.95),(59.3,.8),(58,1.2),(58.6,1.55)]]
d_blue = [
 [(-90.3,10.85),(-87.3,11.2),(-82.8,10.5),(-80.6,9.9),(-76.8,10.5),(-74.5,10.75),(-70.8,9.9),(-65.5,9.5),(-64,9),(-58.8,8),(-55,7.6),(-51.2,7.6),(-49.4,9.5),(-46,10.3),(-42.2,10.85),(-37.7,11.25),(-33.2,12.2),(-32.4,13.7),(-30.9,14.25),(-30.2,15.6),(-25,16.4),(-20,16.7),(-18.3,16.85),(-15.7,16.95)],
 [(-90.3,8.95),(-88,9.9),(-84.3,9.5),(-82,7.6),(-80.2,7.25),(-79.4,8.4),(-76,8.2),(-73.8,8.3),(-66.3,8.2),(-64.4,6.65),(-61.4,6),(-60.6,4.4),(-59.5,6.5),(-58,6),(-55,6.5),(-50.9,5.9),(-49.4,7.6),(-42.2,9.35),(-35.4,10.1),(-31,12.5),(-27.2,14.65),(-22.7,15.6),(-20.9,16.6),(-16.4,16.4)],
 [(-54.4,5.35),(-53.7,4.5),(-55,4.8),(-54.4,5.35)],
 [(-45.3,11.55),(-44.7,12.05)],
 [(-42.1,11.75),(-40.2,12.1),(-41.5,12.1),(-42.1,11.75)],
 [(15.2,15.65),(17.8,17.15),(22.5,16.85),(24.7,17.1),(27.7,16.75),(30.7,16.55),(32.6,16.85),(30.7,15.6),(33.7,14.3),(33.7,12.2),(31.5,11.2)],
 [(22.5,16.55),(26.2,16.1),(29.2,15.4),(31.9,14.5),(32.2,11.6)],
 [(36.4,15.2),(39.8,15.4),(40.1,13.9),(42.8,11),(42.4,6.1),(43.5,8.8),(44.6,9.5),(48,9.6),(52.5,9.15),(55.2,9.6),(59.3,8.2),(64.6,7.8),(66.5,5.9),(68.3,8.2),(70.6,10.85),(73.6,12.2),(80.4,13),(84.9,11.8),(87.9,8.8),(86.4,5)],
 [(37.5,15),(40.5,13),(41.6,11),(42.4,6.5),(43.9,8),(45,8.6),(49.5,8.4),(51.4,7.8),(53.3,6.9),(55.6,8.4),(60.8,6.5),(61.6,4.8),(60.4,5.15),(63.1,6.9),(66.5,6.5),(69.8,9.7),(72.1,11.4),(77.4,12.65),(81.1,12.55),(85.6,10.7),(87.9,6.1),(85.2,4.5),(87.9,6.9),(89,16.75),(89,8.4)],
]
d_gray = [
 (-90,[10.1,10.1,10.05,10.1,9.45,9.45,9.25,9.15,9.1,9.1,9.05,8.95,8.85,8.8,8.4,8.2,7.9,7.55,7.1,7.1,7.1,7.85,8.6,9.4,9.7,9.9,10.15,10.65,11.2,11.55,11.75,12.4,12.2]),
 (-16,[16.15,16.6,16.9,16.8,17.05,17.2,17.1,17.05,17.1,16.4,16.5,16.6,16.75,16.75,16.75,16.7,16.55,16.4,16.1,16,15.9,15.9,16.15,17.55,17.4,17.2]),
 (38,[14.2,14.1,13.15,8.75,8.85,8.95,8.95,8.75,8.65,9.2,8.7,8.45,8.45,8.3,7.1,8.3,9.7,10.4,10.9,11.25,11.6,11.55,11.55,10.9,10,5.85,6.9]),
]
d_green = [
 (-90,[9.85,9.95,10,9.95,9.2,9.2,9.15,9.05,9,9,9,8.9,8.8,8.6,8.2,8,7.65,7.3,7.1,7.1,7.1,7.8,8.5,9.15,9.65,9.85,10.1,10.5,10.85,11.3,11.5,12,11.8,11.4,11.25,11.25,11.5]),
 (-16,[15.8,15.8,15.2,16,15.8,16.5,16.6,16.4,16,16,16,16.15,16.35,16.35,16.5,15.1,15.4,15.9,15.9,15.6,15.9,15.9,15.4,15.65,14.8,14.8,14.7]),
 (38,[13.7,13.4,11.6,8.6,8.8,8.9,8.9,8.7,8.6,9,8.6,8.4,8.4,8.15,7.05,8.05,9.65,10.2,10.85,11.15,11.55,11.35,11.35,10.65,9.75,5.85,6.9]),
]
d_dgray = [(-28,15.5),(-26,15.6),(-24,16),(-22,16.2),(-20,16.2),(-18,16.3),(36,17.1),(38,17),(40,17.45),(42,17.5),(44,17.9),(46,18),(48,18.5),(50,18.5)]
d_dgreen = [(-26,15.6),(-24,16.05),(-22,16.25),(-20,16.2),(-18,16.25),(38,17),(46,17.8),(48,18.1)]
d_lab = [('500',-49.2,19.45,25),('480',-33.8,19.6,10),('460',-5.8,19.6,-5),('440',-1.5,19.2,0),('420',3.2,18.8,0),('400',6.2,17.95,0),('380',9.4,17.1,0),('440',-82.7,17.7,-30),('420',-75.8,16.1,-35),('400',-73.6,14.95,-35),('380',-71,13.75,-25),('360',-62.7,11.65,-30),('340',-48.4,9.95,40),('320',-62.7,9.2,-30),('300',-72.6,8.7,-15),('280',-64.4,1.65,-85),('320',7.9,4.5,-10),('340',22.7,9.25,-15),('300',8.1,.6,-75),('300',41.6,3.95,65),('500',64.1,19.6,10),('480',81,19.25,0),('460',83.5,18.2,-5),('440',83.5,17.05,-5),('420',83.5,15.9,-5),('400',84.1,14.8,-15),('380',84.8,13.55,-30),('360',86,12.4,-60),('320',64.8,8.65,-10)]
d_red = [('50',-64.3,18.85,-90),('40',-61,18.4,-90),('30',-56.8,18.75,-90),('20',-53,18.5,-90),('20',-4.8,15.3,-90),('30',-18.7,12.3,50),('20',-37,7.55,70),('30',-44.6,6.9,75),('20',-53.6,3.55,-90),('30',46.1,11.7,-90),('20',51,16.3,-90),('50',39,7.5,-90),('40',38.1,6.8,-90),('20',36.4,5.6,-75),('20',38.6,5.15,-90),('40',84.1,8.4,-90),('30',83,6.6,-90),('20',81.9,5.45,-80)]
d_pur = [('6',-83.8,10.6,0),('2',-59.5,4.9,0),('2',-23.9,13.05,60),('6',-37,11.4,60),('4',-49.3,8.6,0),('6',18.4,17.05,0),('2',33.2,14.25,0),('2',52.6,7.55,0),('6',51.3,9.25,0),('2',30.7,11.25,0),('4',88,7.65,0)]

PANELS = [
 (a_title, a_isen, a_fill20, a_fill30, a_fill40, a_fill50, a_outline, a_blue, a_gray, a_green, a_dgray, a_dgreen, a_lab, a_red, a_pur),
 (b_title, b_isen, b_fill20, b_fill30, b_fill40, b_fill50, b_outline, b_blue, b_gray, b_green, b_dgray, b_dgreen, b_lab, b_red, b_pur),
 (c_title, c_isen, c_fill20, c_fill30, c_fill40, c_fill50, c_outline, c_blue, c_gray, c_green, c_dgray, c_dgreen, c_lab, c_red, c_pur),
 (d_title, d_isen, d_fill20, d_fill30, d_fill40, d_fill50, d_outline, d_blue, d_gray, d_green, d_dgray, d_dgreen, d_lab, d_red, d_pur),
]
TOPS = [43, 442, 847, 1248]
BOTS = [395, 793, 1198, 1599]
LEFT, RIGHT = 81.5, 879.5
XT = list(range(-90, 91, 15))
YT = list(range(0, 21, 4))


def runs(series):
    xs, ys = [], []
    for start, vals in series:
        for i, v in enumerate(vals):
            xs.append(start + 2 * i)
            ys.append(v)
    return xs, ys


def curve(points, closed=False, k=1 / 6):
    """Bezier path running through the read-off points (no points are added to the data)."""
    p = np.array(points, float)
    n = len(p)
    if n < 3:
        return Path(p)
    verts, codes = [p[0]], [Path.MOVETO]
    stop = n if closed else n - 1
    for i in range(stop):
        if closed:
            p0, p1, p2, p3 = p[(i - 1) % n], p[i], p[(i + 1) % n], p[(i + 2) % n]
        else:
            p0, p1, p2, p3 = p[max(i - 1, 0)], p[i], p[i + 1], p[min(i + 2, n - 1)]
        verts += [p1 + (p2 - p0) * k, p2 - (p3 - p1) * k, p2]
        codes += [Path.CURVE4] * 3
    return Path(np.array(verts), codes)


def shade_at(x, y, levels):
    colour = 'white'
    for polys, col in levels:
        for poly in polys:
            if Path(poly).contains_point((x, y)):
                colour = col
    return colour


fig = plt.figure(figsize=(W / 100, H / 100), dpi=100)
for k, p in enumerate(PANELS):
    title, isen, f20, f30, f40, f50, outl, blue, gray, green, dgray, dgreen, lab, red, pur = p
    ax = fig.add_axes([LEFT / W, 1 - BOTS[k] / H, (RIGHT - LEFT) / W, (BOTS[k] - TOPS[k]) / H])
    ax.set_xlim(-90, 90)
    ax.set_ylim(0, 20)
    levels = ((f20, C20), (f30, C30), (f40, C40), (f50, C50))
    for polys, col in levels:
        for poly in polys:
            ax.add_patch(PathPatch(curve(poly, closed=True, k=1 / 9), facecolor=col, edgecolor=RED, lw=0.85, zorder=2))
    for o in outl:
        xy = np.array(o)
        ax.plot(xy[:, 0], xy[:, 1], color=RED, lw=0.85, zorder=2)
    for b in blue:
        xy = np.array(b)
        ax.plot(xy[:, 0], xy[:, 1], color=BLUE, lw=1.25, zorder=3)
    for line in isen:
        ax.add_patch(PathPatch(curve(line), facecolor='none', edgecolor='black', lw=0.72, zorder=4))
    for t, x, y, r in lab:
        ax.text(x, y, t, fontsize=11, rotation=r, ha='center', va='center', color='#111111', zorder=5,
                rotation_mode='anchor', bbox=dict(fc=shade_at(x, y, levels), ec='none', pad=0.5))
    for t, x, y, r in red:
        ax.text(x, y, t, fontsize=11, rotation=r, ha='center', va='center', color=RED, zorder=5, rotation_mode='anchor')
    for t, x, y, r in pur:
        ax.text(x, y, t, fontsize=9.5, rotation=r, ha='center', va='center', color=PURPLE, zorder=5, rotation_mode='anchor')
    gx, gy = runs(gray)
    ax.plot(gx, gy, ls='none', marker='o', ms=6.3, mfc='#5A5A5A', mec='black', mew=0.6, zorder=6)
    xy = np.array(dgray)
    ax.plot(xy[:, 0], xy[:, 1], ls='none', marker='d', ms=7.6, mfc='#5A5A5A', mec='black', mew=0.4, zorder=6)
    xy = np.array(dgreen)
    ax.plot(xy[:, 0], xy[:, 1], ls='none', marker='d', ms=5.2, mfc='#10DC90', mec='black', mew=0.4, zorder=7)
    gx, gy = runs(green)
    ax.plot(gx, gy, ls='none', marker='o', ms=4.6, mfc='#10E090', mec='black', mew=0.5, zorder=7)
    ax.set_xticks(XT)
    ax.set_yticks(YT)
    ax.tick_params(axis='x', which='major', direction='in', top=True, bottom=True, length=5, width=0.8, labelsize=18, pad=6.5)
    ax.tick_params(axis='y', which='major', direction='in', left=True, right=True, length=11.5, width=0.8, labelsize=18, pad=6.5)
    ax.set_yticklabels([str(v) for v in YT])
    ylabels = ax.get_yticklabels()
    ylabels[0].set_transform(ylabels[0].get_transform() + ScaledTranslation(0, 7 / 100, fig.dpi_scale_trans))
    ylabels[-1].set_transform(ylabels[-1].get_transform() + ScaledTranslation(0, -3.5 / 100, fig.dpi_scale_trans))
    if k < 3:
        ax.tick_params(axis='x', labelbottom=False)
    else:
        ax.set_xticklabels([str(v).replace('-', '\u2212') for v in XT])
        shift = ScaledTranslation(7.5 / 100, 0, fig.dpi_scale_trans)
        for v, tl in zip(XT, ax.get_xticklabels()):
            if v < 0:
                tl.set_transform(tl.get_transform() + shift)
        ax.set_xlabel('Latitude (°N)', fontsize=17.5, va='center')
        ax.xaxis.set_label_coords(0.5, -0.128)
    ax.set_ylabel('Geopotential Height (km)', fontsize=18, va='center')
    ax.yaxis.set_label_coords(-0.068, 0.51)
    for s in ax.spines.values():
        s.set_linewidth(0.8)
    ax.annotate(title, xy=(0, 1), xycoords='axes fraction', xytext=(1, 8), textcoords='offset points',
                fontsize=15, fontweight='bold', ha='left', va='bottom')

fig.savefig('out.png', dpi=100)
